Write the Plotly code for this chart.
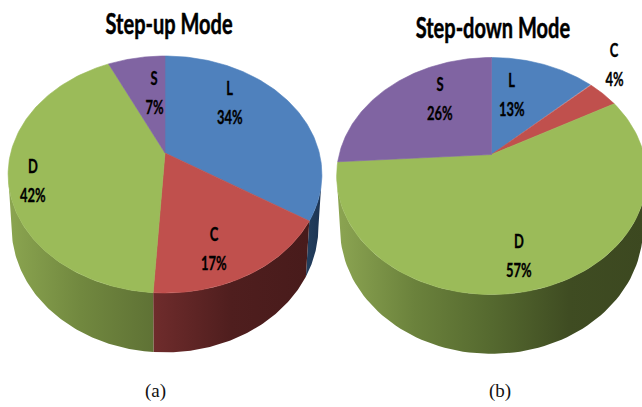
import numpy as np
import plotly.graph_objects as go

# Share of each loss component per operating mode (percent)
categories = ["L", "C", "D", "S"]
step_up = [34, 17, 42, 7]
step_down = [13, 4, 57, 26]
titles = ["Step-up Mode", "Step-down Mode"]
captions = ["(a)", "(b)"]

top_colors = {"L": "#4f81bd", "C": "#c0504d", "D": "#9bbb59", "S": "#8064a2"}

# Wall shading for each visible slice, left to right across the rim
wall_shades = [
    {"L": ["#24405f", "#1c3352"], "C": ["#6f2c2c", "#4f1e1e", "#481b1b"], "D": ["#8ba550", "#71883f", "#5f7235"]},
    {"D": ["#8ca552", "#6b823c", "#55692f", "#3f4c22", "#3c4820"]},
]

# Projection of the tilted disc into page pixels
SCALE_Y, PERSP = 114.6, 0.1814
DEPTH_SHIFT, DEPTH_PERSP = 53.0, 0.022
centers = [(165.0, 153.0), (491.5, 154.5)]
widths = [154.3, 152.3]
FRONT = (np.degrees(np.arccos(-PERSP)), 360 - np.degrees(np.arccos(-PERSP)))


def project(center, scale_x, angles, lower=False):
    a = np.radians(angles)
    dx, dy = np.sin(a), np.cos(a)
    m = DEPTH_PERSP if lower else 0.0
    h = DEPTH_SHIFT if lower else 0.0
    w = 1 + PERSP * dy + m
    return center[0] + scale_x * dx / w, center[1] + (h - SCALE_Y * dy) / w


def scale_stops(colors):
    return [[i / (len(colors) - 1), c] for i, c in enumerate(colors)]


fig = go.Figure()
for values, center, scale_x, shades in zip([step_up, step_down], centers, widths, wall_shades):
    edges = np.concatenate([[0], np.cumsum(values)]) * 3.6

    # Rim walls go underneath the slice tops
    for cat, a0, a1 in zip(categories, edges[:-1], edges[1:]):
        lo, hi = max(a0, FRONT[0]), min(a1, FRONT[1])
        if hi <= lo or cat not in shades:
            continue
        arc = np.linspace(lo, hi, 80)
        xt, yt = project(center, scale_x, arc)
        xb, yb = project(center, scale_x, arc, lower=True)
        fig.add_trace(go.Scatter(
            x=np.concatenate([xt, xb[::-1]]), y=np.concatenate([yt, yb[::-1]]),
            mode="lines", line=dict(width=0), fill="toself",
            fillgradient=dict(type="horizontal", colorscale=scale_stops(shades[cat])),
            hoverinfo="skip", showlegend=False,
        ))

    # Slice tops, each fanning out from the hub
    for cat, a0, a1 in zip(categories, edges[:-1], edges[1:]):
        arc = np.linspace(a0, a1, 120)
        xa, ya = project(center, scale_x, arc)
        fig.add_trace(go.Scatter(
            x=np.concatenate([[center[0]], xa, [center[0]]]),
            y=np.concatenate([[center[1]], ya, [center[1]]]),
            mode="lines", line=dict(width=0.6, color=top_colors[cat]), fill="toself",
            fillcolor=top_colors[cat], name=cat, hoverinfo="name", showlegend=False,
        ))

label_font = dict(family="Lato", size=18, color="#000000")
label_spots = [
    {"L": (230, 88), "C": (214, 234), "D": (33, 166), "S": (154, 78)},
    {"L": (512, 80), "C": (614, 50), "D": (519, 241), "S": (440, 84)},
]
LINE_GAP = 29


def note(x, y, text, font):
    fig.add_annotation(x=x, y=y, xref="x", yref="y", text=text, showarrow=False, font=font,
                       xanchor="center", yanchor="middle")


for values, spots in zip([step_up, step_down], label_spots):
    for cat, v in zip(categories, values):
        x, y = spots[cat]
        note(x, y, f"<b>{cat}</b>", label_font)
        note(x, y + LINE_GAP, f"<b>{v}%</b>", label_font)

title_font = dict(family="Lato", size=29, color="#000000")
note(169, 22, f"<b>{titles[0]}</b>", title_font)
note(493, 26, f"<b>{titles[1]}</b>", title_font)

caption_font = dict(family="Liberation Serif", size=19, color="#111111")
note(155, 391, captions[0], caption_font)
note(500, 391, captions[1], caption_font)

fig.update_layout(
    width=642, height=407, margin=dict(l=0, r=0, t=0, b=0),
    paper_bgcolor="#ffffff", plot_bgcolor="#ffffff",
    xaxis=dict(range=[0, 642], visible=False, fixedrange=True),
    yaxis=dict(range=[407, 0], visible=False, fixedrange=True),
    showlegend=False,
)

# Squeeze the sans-serif labels horizontally into a condensed look and thicken them a touch
condense = """
document.querySelectorAll('.annotation-text').forEach(function (t) {
  if (t.style.fontFamily.indexOf('Lato') < 0) return;
  var big = parseFloat(t.style.fontSize) > 20;
  var s = big ? 0.69 : 0.72;
  var x = parseFloat(t.getAttribute('x')) || 0;
  t.setAttribute('transform', 'translate(' + x + ',0) scale(' + s + ',1) translate(' + (-x) + ',0)');
  t.style.stroke = '#000000';
  t.style.strokeWidth = big ? '0.5px' : '0.3px';
});
"""
fig.write_html("out.html", config={"displayModeBar": False}, post_script=condense)
